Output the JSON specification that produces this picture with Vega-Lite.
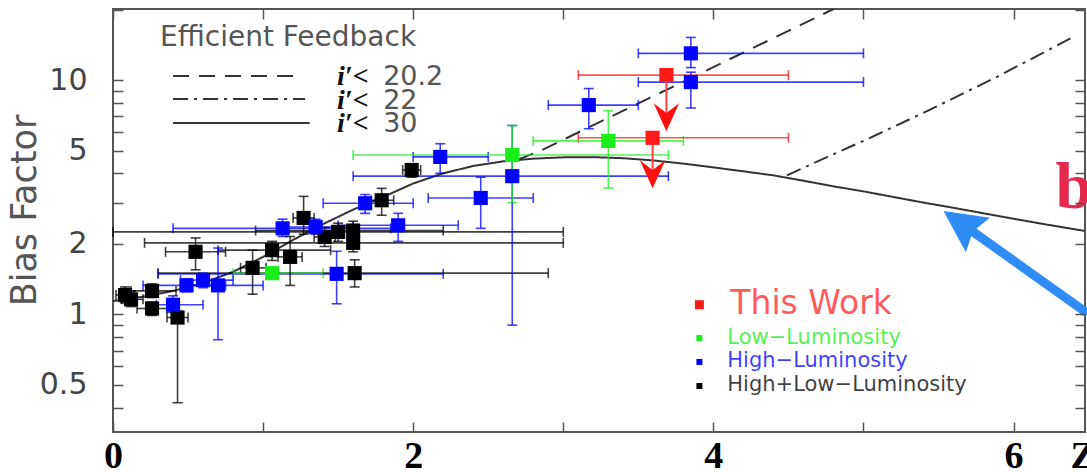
{
"$schema":"https://vega.github.io/schema/vega-lite/v6.json",
"width":972,"height":423,"autosize":"none",
"padding":{"left":113,"top":9,"right":2,"bottom":40},
"background":"#ffffff",
"config":{"view":{"stroke":"#555555","strokeWidth":2},"axis":{"domain":false,"grid":false}},
"datasets":{
"curves":[
{"k":"d30","z":0,"b":1.14},{"k":"d30","z":0.2,"b":1.19},{"k":"d30","z":0.4,"b":1.26},{"k":"d30","z":0.6,"b":1.36},{"k":"d30","z":0.8,"b":1.52},{"k":"d30","z":1.0,"b":1.76},{"k":"d30","z":1.2,"b":2.08},{"k":"d30","z":1.4,"b":2.43},{"k":"d30","z":1.6,"b":2.8},{"k":"d30","z":1.8,"b":3.17},{"k":"d30","z":2.0,"b":3.62},{"k":"d30","z":2.2,"b":4.0},{"k":"d30","z":2.4,"b":4.3},{"k":"d30","z":2.6,"b":4.5},{"k":"d30","z":2.8,"b":4.62},{"k":"d30","z":3.0,"b":4.68},{"k":"d30","z":3.2,"b":4.69},{"k":"d30","z":3.4,"b":4.64},{"k":"d30","z":3.6,"b":4.54},{"k":"d30","z":3.8,"b":4.4},{"k":"d30","z":4.0,"b":4.24},{"k":"d30","z":4.2,"b":4.08},{"k":"d30","z":4.4,"b":3.92},{"k":"d30","z":4.6,"b":3.72},{"k":"d30","z":4.8,"b":3.52},{"k":"d30","z":5.0,"b":3.35},{"k":"d30","z":5.2,"b":3.17},{"k":"d30","z":5.4,"b":3.0},{"k":"d30","z":5.6,"b":2.85},{"k":"d30","z":5.8,"b":2.7},{"k":"d30","z":6.0,"b":2.56},{"k":"d30","z":6.2,"b":2.43},{"k":"d30","z":6.476,"b":2.27},
{"k":"d20","z":2.7,"b":4.58},{"k":"d20","z":2.85,"b":5.0},{"k":"d20","z":3.2,"b":6.42},{"k":"d20","z":3.5,"b":7.95},{"k":"d20","z":3.85,"b":10.2},{"k":"d20","z":4.2,"b":13.1},{"k":"d20","z":4.5,"b":16.2},{"k":"d20","z":4.8,"b":20.1},{"k":"d20","z":4.9,"b":21.6},
{"k":"d22","z":4.49,"b":3.92},{"k":"d22","z":4.75,"b":4.67},{"k":"d22","z":5.0,"b":5.5},{"k":"d22","z":5.43,"b":7.4},{"k":"d22","z":5.9,"b":10.4},{"k":"d22","z":6.4,"b":15.3}
],
"pts":[
{"g":"Both","z":0.08,"b":1.21,"zlo":0.02,"zhi":0.14,"blo":1.12,"bhi":1.31},
{"g":"Both","z":0.12,"b":1.16,"zlo":0.06,"zhi":0.2,"blo":1.08,"bhi":1.26},
{"g":"Both","z":0.26,"b":1.26,"zlo":0.12,"zhi":0.42,"blo":1.18,"bhi":1.35},
{"g":"Both","z":0.26,"b":1.06,"zlo":0.16,"zhi":0.36,"blo":0.99,"bhi":1.13},
{"g":"Both","z":0.43,"b":0.97,"zlo":0.36,"zhi":0.5,"blo":0.42,"bhi":1.03},
{"g":"Both","z":0.55,"b":1.85,"zlo":0.35,"zhi":0.75,"blo":1.55,"bhi":2.12},
{"g":"Both","z":0.93,"b":1.58,"zlo":0.85,"zhi":1.02,"blo":1.22,"bhi":1.88},
{"g":"Both","z":1.06,"b":1.88,"zlo":0.7,"zhi":1.45,"blo":1.7,"bhi":2.05},
{"g":"Both","z":1.18,"b":1.76,"zlo":1.1,"zhi":1.26,"blo":1.33,"bhi":2.15},
{"g":"Both","z":1.27,"b":2.58,"zlo":1.2,"zhi":1.34,"blo":2.2,"bhi":3.19},
{"g":"Both","z":1.41,"b":2.14,"zlo":1.34,"zhi":1.48,"blo":1.95,"bhi":2.35},
{"g":"Both","z":1.5,"b":2.25,"zlo":0.0,"zhi":3.0,"blo":2.05,"bhi":2.45},
{"g":"Both","z":1.6,"b":2.28,"zlo":0.95,"zhi":2.2,"blo":2.08,"bhi":2.5},
{"g":"Both","z":1.6,"b":2.02,"zlo":0.21,"zhi":3.0,"blo":1.85,"bhi":2.2},
{"g":"Both","z":1.61,"b":1.5,"zlo":0.3,"zhi":2.9,"blo":1.31,"bhi":1.71},
{"g":"Both","z":1.79,"b":3.07,"zlo":1.72,"zhi":1.87,"blo":2.65,"bhi":3.45},
{"g":"Both","z":1.99,"b":4.13,"zlo":1.93,"zhi":2.05,"blo":3.85,"bhi":4.4},
{"g":"High","z":0.4,"b":1.1,"zlo":0.29,"zhi":0.6,"blo":1.02,"bhi":1.2},
{"g":"High","z":0.49,"b":1.33,"zlo":0.2,"zhi":0.75,"blo":1.25,"bhi":1.42},
{"g":"High","z":0.6,"b":1.4,"zlo":0.45,"zhi":0.8,"blo":1.3,"bhi":1.5},
{"g":"High","z":0.7,"b":1.33,"zlo":0.45,"zhi":1.0,"blo":0.78,"bhi":1.92},
{"g":"High","z":1.13,"b":2.33,"zlo":0.4,"zhi":1.85,"blo":2.15,"bhi":2.55},
{"g":"High","z":1.35,"b":2.36,"zlo":1.1,"zhi":1.6,"blo":2.2,"bhi":2.55},
{"g":"High","z":1.49,"b":1.49,"zlo":0.3,"zhi":2.2,"blo":1.11,"bhi":1.86},
{"g":"High","z":1.68,"b":2.98,"zlo":1.4,"zhi":2.0,"blo":2.7,"bhi":3.25},
{"g":"High","z":1.9,"b":2.4,"zlo":1.5,"zhi":2.3,"blo":2.05,"bhi":2.7},
{"g":"High","z":2.18,"b":4.7,"zlo":2.0,"zhi":2.5,"blo":4.0,"bhi":5.35},
{"g":"High","z":2.45,"b":3.14,"zlo":2.1,"zhi":2.8,"blo":2.33,"bhi":3.85},
{"g":"High","z":2.66,"b":3.89,"zlo":1.6,"zhi":3.7,"blo":0.9,"bhi":6.4},
{"g":"High","z":3.17,"b":7.82,"zlo":2.9,"zhi":3.5,"blo":6.2,"bhi":9.2},
{"g":"High","z":3.85,"b":13.0,"zlo":3.5,"zhi":5.0,"blo":11.3,"bhi":15.2},
{"g":"High","z":3.85,"b":9.8,"zlo":3.5,"zhi":5.0,"blo":7.6,"bhi":10.8},
{"g":"Low","z":1.06,"b":1.5,"zlo":0.8,"zhi":1.4,"blo":1.45,"bhi":1.55},
{"g":"Low","z":2.66,"b":4.79,"zlo":1.6,"zhi":3.7,"blo":3.0,"bhi":6.4},
{"g":"Low","z":3.3,"b":5.5,"zlo":2.8,"zhi":3.8,"blo":3.46,"bhi":7.4},
{"g":"Red","z":3.687,"b":10.5,"zlo":3.1,"zhi":4.5,"blo":null,"bhi":null},
{"g":"Red","z":3.595,"b":5.67,"zlo":3.1,"zhi":4.5,"blo":null,"bhi":null}
]
},
"layer":[
{"data":{"name":"curves"},"mark":{"type":"line","clip":true,"color":"#333333","strokeWidth":2},
"encoding":{
"x":{"field":"z","type":"quantitative","scale":{"domain":[0,6.476],"nice":false,"zero":false},"axis":{"orient":"bottom","values":[0,2,4,6],"format":"d","ticks":true,"tickSize":0,"labelBaseline":"alphabetic","labelPadding":35,"labelFont":"Liberation Serif","labelFontSize":38,"labelFontWeight":"bold","labelColor":"#000000","labelFlush":false,"labelOverlap":false,"title":"Z","titleFont":"Liberation Serif","titleFontSize":38,"titleFontWeight":"bold","titleColor":"#000000","titleAnchor":"start","titleAlign":"left","titleBaseline":"alphabetic","titleX":957,"titleY":35,"titleAngle":0}},
"y":{"field":"b","type":"quantitative","scale":{"type":"log","domain":[0.315,20.1],"nice":false},"axis":{"orient":"left","values":[0.5,1,2,5,10],"format":"~g","ticks":true,"tickSize":0,"labelPadding":26,"labelFont":"DejaVu Sans","labelFontSize":30,"labelColor":"#444444","labelOverlap":false,"labelFlush":false,"title":"Bias Factor","titleFont":"DejaVu Sans","titleFontSize":35,"titleFontWeight":"normal","titleColor":"#555555","titleX":-89,"titleY":201,"titleBaseline":"middle","titleAngle":-90,"titleAlign":"center"}},
"strokeDash":{"field":"k","type":"nominal","scale":{"domain":["d20","d22","d30"],"range":[[16,10],[15,6,3,6],[1,0]]},"legend":null},
"detail":{"field":"k"}
}},
{"data":{"name":"curves"},"mark":{"type":"point","color":"#333333","opacity":0},
"encoding":{
"x":{"field":"z","type":"quantitative","scale":{"domain":[0,6.476],"nice":false,"zero":false},"axis":{"orient":"top","offset":-423,"zindex":2,"values":[0,1,2,3,4,5,6],"labels":false,"ticks":true,"tickSize":10,"tickColor":"#555555","tickWidth":1.5,"title":null}},
"y":{"field":"b","type":"quantitative","scale":{"type":"log","domain":[0.315,20.1],"nice":false},"axis":{"orient":"right","offset":-972,"zindex":2,"values":[0.4,0.5,0.6,0.7,0.8,0.9,1,2,3,4,5,6,7,8,9,10,20],"labels":false,"ticks":true,"tickSize":10,"tickColor":"#555555","tickWidth":1.5,"title":null}}
}},
{"data":{"name":"curves"},"mark":{"type":"point","color":"#333333","opacity":0},
"encoding":{
"x":{"field":"z","type":"quantitative","scale":{"domain":[0,6.476],"nice":false,"zero":false},"axis":{"orient":"bottom","offset":-423,"zindex":2,"values":[0,1,2,3,4,5,6],"labels":false,"ticks":true,"tickSize":10,"tickColor":"#555555","tickWidth":1.5,"title":null}},
"y":{"field":"b","type":"quantitative","scale":{"type":"log","domain":[0.315,20.1],"nice":false},"axis":{"orient":"left","offset":-972,"zindex":2,"values":[0.4,0.5,0.6,0.7,0.8,0.9,1,2,3,4,5,6,7,8,9,10,20],"labels":false,"ticks":true,"tickSize":10,"tickColor":"#555555","tickWidth":1.5,"title":null}}
}},
{"data":{"values":[{"k":"d20","z":0.4,"z2":1.25,"b":10.4},{"k":"d22","z":0.4,"z2":1.28,"b":8.3},{"k":"d30","z":0.4,"z2":1.31,"b":6.56}]},
"mark":{"type":"rule","color":"#333333","strokeWidth":2},
"encoding":{
"x":{"field":"z","type":"quantitative","scale":{"domain":[0,6.476],"nice":false,"zero":false},"axis":null},
"x2":{"field":"z2"},
"y":{"field":"b","type":"quantitative","scale":{"type":"log","domain":[0.315,20.1],"nice":false},"axis":null},
"strokeDash":{"field":"k","type":"nominal","scale":{"domain":["d20","d22","d30"],"range":[[16,10],[15,6,3,6],[1,0]]},"legend":null}
}},
{"data":{"name":"pts"},"mark":{"type":"errorbar","ticks":{"opacity":0.75},"rule":{"opacity":0.75},"size":10,"thickness":1.6},
"encoding":{
"x":{"field":"zlo","type":"quantitative","scale":{"domain":[0,6.476],"nice":false,"zero":false},"axis":null},
"x2":{"field":"zhi"},
"y":{"field":"b","type":"quantitative","scale":{"type":"log","domain":[0.315,20.1],"nice":false},"axis":null},
"color":{"field":"g","type":"nominal","scale":{"domain":["Both","High","Low","Red"],"range":["#000000","#0000ff","#1aee1a","#ff1a1a"]},"legend":null}
}},
{"data":{"name":"pts"},"transform":[{"filter":"isValid(datum.blo)"}],"mark":{"type":"errorbar","ticks":{"opacity":0.75},"rule":{"opacity":0.75},"size":10,"thickness":1.6},
"encoding":{
"x":{"field":"z","type":"quantitative","scale":{"domain":[0,6.476],"nice":false,"zero":false},"axis":null},
"y":{"field":"blo","type":"quantitative","scale":{"type":"log","domain":[0.315,20.1],"nice":false},"axis":null},
"y2":{"field":"bhi"},
"color":{"field":"g","type":"nominal","scale":{"domain":["Both","High","Low","Red"],"range":["#000000","#0000ff","#1aee1a","#ff1a1a"]},"legend":null}
}},
{"data":{"values":[{"z":3.687,"b":10.5,"b2":7.02},{"z":3.595,"b":5.67,"b2":4.01}]},
"mark":{"type":"rule","color":"#ff4040","strokeWidth":2},
"encoding":{
"x":{"field":"z","type":"quantitative","scale":{"domain":[0,6.476],"nice":false,"zero":false},"axis":null},
"y":{"field":"b","type":"quantitative","scale":{"type":"log","domain":[0.315,20.1],"nice":false},"axis":null},
"y2":{"field":"b2"}}},
{"data":{"values":[{"z":3.687,"b":7.02},{"z":3.595,"b":4.01}]},
"mark":{"type":"point","shape":"M0,1.2L1,-1L0,-0.25L-1,-1Z","filled":true,"size":650,"color":"#ff1010","opacity":1,"strokeWidth":0},
"encoding":{
"x":{"field":"z","type":"quantitative","scale":{"domain":[0,6.476],"nice":false,"zero":false},"axis":null},
"y":{"field":"b","type":"quantitative","scale":{"type":"log","domain":[0.315,20.1],"nice":false},"axis":null}}},
{"data":{"name":"pts"},"mark":{"type":"point","shape":"square","filled":true,"size":200,"opacity":1,"strokeWidth":0},
"encoding":{
"x":{"field":"z","type":"quantitative","scale":{"domain":[0,6.476],"nice":false,"zero":false},"axis":null},
"y":{"field":"b","type":"quantitative","scale":{"type":"log","domain":[0.315,20.1],"nice":false},"axis":null},
"color":{"field":"g","type":"nominal","scale":{"domain":["Both","High","Low","Red"],"range":["#000000","#0000ff","#1aee1a","#ff1a1a"]},"legend":null}}},
{"data":{"values":[{"g":"Red","z":3.907,"b":1.1,"s":"m"},{"g":"Low","z":3.907,"b":0.793,"s":"s"},{"g":"High","z":3.907,"b":0.627,"s":"s"},{"g":"Both","z":3.907,"b":0.495,"s":"s"}]},"mark":{"type":"point","shape":"square","filled":true,"opacity":1,"strokeWidth":0},
"encoding":{
"x":{"field":"z","type":"quantitative","scale":{"domain":[0,6.476],"nice":false,"zero":false},"axis":null},
"y":{"field":"b","type":"quantitative","scale":{"type":"log","domain":[0.315,20.1],"nice":false},"axis":null},
"size":{"field":"s","type":"nominal","scale":{"domain":["m","s"],"range":[81,36]},"legend":null},
"color":{"field":"g","type":"nominal","scale":{"domain":["Both","High","Low","Red"],"range":["#000000","#0000ff","#1aee1a","#ff1a1a"]},"legend":null}}},
{"data":{"values":[{"g":"Red","t":"This Work","z":4.113,"b":1.11}]},"mark":{"type":"text","align":"left","baseline":"middle","font":"DejaVu Sans","fontSize":33,"opacity":0.72},
"encoding":{
"x":{"field":"z","type":"quantitative","scale":{"domain":[0,6.476],"nice":false,"zero":false},"axis":null},
"y":{"field":"b","type":"quantitative","scale":{"type":"log","domain":[0.315,20.1],"nice":false},"axis":null},
"text":{"field":"t"},"color":{"field":"g","type":"nominal","scale":{"domain":["Both","High","Low","Red"],"range":["#000000","#0000ff","#1aee1a","#ff1a1a"]},"legend":null}}},
{"data":{"values":[{"g":"Low","t":"Low−Luminosity","z":4.093,"b":0.793},{"g":"High","t":"High−Luminosity","z":4.093,"b":0.633},{"g":"Both","t":"High+Low−Luminosity","z":4.093,"b":0.5}]},"mark":{"type":"text","align":"left","baseline":"middle","font":"DejaVu Sans","fontSize":21,"opacity":0.75},
"encoding":{
"x":{"field":"z","type":"quantitative","scale":{"domain":[0,6.476],"nice":false,"zero":false},"axis":null},
"y":{"field":"b","type":"quantitative","scale":{"type":"log","domain":[0.315,20.1],"nice":false},"axis":null},
"text":{"field":"t"},"color":{"field":"g","type":"nominal","scale":{"domain":["Both","High","Low","Red"],"range":["#000000","#0000ff","#1aee1a","#ff1a1a"]},"legend":null}}},
{"data":{"values":[{"t":"Efficient Feedback","z":0.313,"b":15.1}]},"mark":{"type":"text","align":"left","baseline":"middle","font":"DejaVu Sans","fontSize":28,"color":"#555555"},
"encoding":{
"x":{"field":"z","type":"quantitative","scale":{"domain":[0,6.476],"nice":false,"zero":false},"axis":null},
"y":{"field":"b","type":"quantitative","scale":{"type":"log","domain":[0.315,20.1],"nice":false},"axis":null},
"text":{"field":"t"}}},
{"data":{"values":[{"t":"i′<","z":1.493,"b":10.3},{"t":"i′<","z":1.493,"b":8.14},{"t":"i′<","z":1.493,"b":6.49}]},"mark":{"type":"text","align":"left","baseline":"middle","font":"Liberation Serif","fontStyle":"italic","fontWeight":"bold","fontSize":28,"color":"#111111"},
"encoding":{
"x":{"field":"z","type":"quantitative","scale":{"domain":[0,6.476],"nice":false,"zero":false},"axis":null},
"y":{"field":"b","type":"quantitative","scale":{"type":"log","domain":[0.315,20.1],"nice":false},"axis":null},
"text":{"field":"t"}}},
{"data":{"values":[{"t":"20.2","z":1.8,"b":10.3},{"t":"22","z":1.8,"b":8.14},{"t":"30","z":1.8,"b":6.49}]},"mark":{"type":"text","align":"left","baseline":"middle","font":"DejaVu Sans","fontSize":27,"color":"#555555"},
"encoding":{
"x":{"field":"z","type":"quantitative","scale":{"domain":[0,6.476],"nice":false,"zero":false},"axis":null},
"y":{"field":"b","type":"quantitative","scale":{"type":"log","domain":[0.315,20.1],"nice":false},"axis":null},
"text":{"field":"t"}}},
{"data":{"values":[{"t":"b","z":6.28,"b":2.85}]},"mark":{"type":"text","align":"left","baseline":"alphabetic","font":"Liberation Serif","fontWeight":"bold","fontSize":66,"color":"#e4294f"},
"encoding":{
"x":{"field":"z","type":"quantitative","scale":{"domain":[0,6.476],"nice":false,"zero":false},"axis":null},
"y":{"field":"b","type":"quantitative","scale":{"type":"log","domain":[0.315,20.1],"nice":false},"axis":null},
"text":{"field":"t"}}},
{"data":{"values":[{"z":6.493,"b":1.01,"z2":5.648,"b2":2.455}]},"mark":{"type":"rule","color":"#2e8cf4","strokeWidth":9},
"encoding":{
"x":{"field":"z","type":"quantitative","scale":{"domain":[0,6.476],"nice":false,"zero":false},"axis":null},
"y":{"field":"b","type":"quantitative","scale":{"type":"log","domain":[0.315,20.1],"nice":false},"axis":null},
"x2":{"field":"z2"},"y2":{"field":"b2"}}},
{"data":{"values":[{"z":5.648,"b":2.455}]},"mark":{"type":"point","shape":"M0,-1L1,1L0,0.7L-1,1Z","filled":true,"size":1764,"angle":305,"color":"#2e8cf4","opacity":1,"strokeWidth":0},
"encoding":{
"x":{"field":"z","type":"quantitative","scale":{"domain":[0,6.476],"nice":false,"zero":false},"axis":null},
"y":{"field":"b","type":"quantitative","scale":{"type":"log","domain":[0.315,20.1],"nice":false},"axis":null}}}
],
"resolve":{"axis":{"x":"independent","y":"independent"}}
}
